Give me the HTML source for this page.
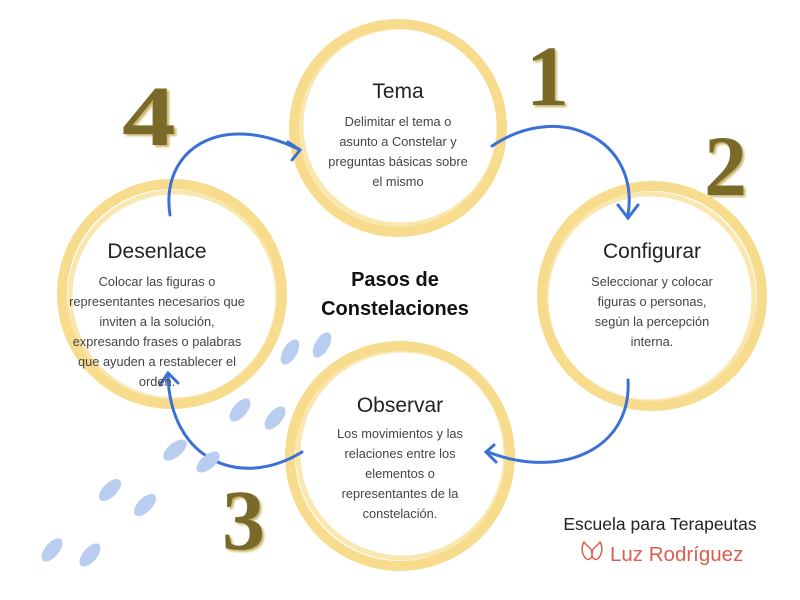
<!DOCTYPE html>
<html><head><meta charset="utf-8"><style>
html,body{margin:0;padding:0;background:#fff;}
body{width:800px;height:600px;position:relative;overflow:hidden;font-family:"Liberation Sans",sans-serif;}
.t{position:absolute;text-align:center;color:#333;}
.h{font-size:21px;color:#222;}
.p{font-size:12.8px;line-height:20px;color:#444;}
.n{position:absolute;font-family:"Liberation Serif",serif;font-weight:bold;font-size:86px;color:#7a6a2a;text-shadow:2px 2px 2px #c9b36a;}
</style></head><body>
<svg width="800" height="600" style="position:absolute;left:0;top:0">
<g fill="none" stroke="#f7d67a" stroke-width="10" opacity="0.85">
<circle cx="398" cy="128" r="104"/><circle cx="400" cy="126" r="99" stroke-width="5" opacity="0.7"/>
<circle cx="652" cy="296" r="110"/><circle cx="650" cy="298" r="104" stroke-width="5" opacity="0.7"/>
<circle cx="400" cy="456" r="110"/><circle cx="402" cy="454" r="104" stroke-width="5" opacity="0.7"/>
<circle cx="172" cy="294" r="110"/><circle cx="174" cy="296" r="104" stroke-width="5" opacity="0.7"/>
</g>
<g fill="none" stroke="#3b70d6" stroke-width="3" stroke-linecap="round">
<path d="M170 215 C160 150 220 110 300 150"/><path d="M288 142 L300 150 L292 160"/>
<path d="M492 146 C560 100 640 140 628 215"/><path d="M618 205 L628 218 L638 205"/>
<path d="M628 380 C632 450 560 480 488 452"/><path d="M494 445 L486 452 L496 462"/>
<path d="M302 452 C240 490 170 460 168 375"/><path d="M160 385 L168 373 L178 383"/>
</g>
<g fill="#b9cdf1">
<ellipse cx="290" cy="352" rx="7" ry="14" transform="rotate(30 290 352)"/>
<ellipse cx="322" cy="345" rx="7" ry="14" transform="rotate(30 322 345)"/>
<ellipse cx="240" cy="410" rx="7" ry="14" transform="rotate(40 240 410)"/>
<ellipse cx="275" cy="418" rx="7" ry="14" transform="rotate(40 275 418)"/>
<ellipse cx="175" cy="450" rx="7" ry="14" transform="rotate(50 175 450)"/>
<ellipse cx="208" cy="462" rx="7" ry="14" transform="rotate(50 208 462)"/>
<ellipse cx="110" cy="490" rx="7" ry="14" transform="rotate(45 110 490)"/>
<ellipse cx="145" cy="505" rx="7" ry="14" transform="rotate(45 145 505)"/>
<ellipse cx="52" cy="550" rx="7" ry="14" transform="rotate(40 52 550)"/>
<ellipse cx="90" cy="555" rx="7" ry="14" transform="rotate(40 90 555)"/>
</g>
<g fill="none" stroke="#d9604f" stroke-width="1.5">
<path d="M584 542 C578 552 588 566 592 556 C596 566 606 552 600 542 C596 548 592 546 592 556 C592 546 588 548 584 542 Z"/>
</g>
</svg>
<div class="n" style="left:526px;top:26px">1</div>
<div class="n" style="left:704px;top:116px">2</div>
<div class="n" style="left:222px;top:470px">3</div>
<div class="n" style="left:122px;top:66px;transform:scaleX(1.25);transform-origin:left">4</div>

<div class="t h" style="left:298px;top:80px;width:200px">Tema</div>
<div class="t p" style="left:293px;top:112px;width:210px">Delimitar el tema o<br>asunto a Constelar y<br>preguntas básicas sobre<br>el mismo</div>

<div class="t h" style="left:552px;top:240px;width:200px">Configurar</div>
<div class="t p" style="left:552px;top:272px;width:200px">Seleccionar y colocar<br>figuras o personas,<br>según la percepción<br>interna.</div>

<div class="t h" style="left:300px;top:394px;width:200px">Observar</div>
<div class="t p" style="left:300px;top:424px;width:200px">Los movimientos y las<br>relaciones entre los<br>elementos o<br>representantes de la<br>constelación.</div>

<div class="t h" style="left:52px;top:240px;width:210px">Desenlace</div>
<div class="t p" style="left:47px;top:272px;width:220px">Colocar las figuras o<br>representantes necesarios que<br>inviten a la solución,<br>expresando frases o palabras<br>que ayuden a restablecer el<br>orden.</div>

<div class="t" style="left:295px;top:266px;width:200px;font-size:20px;font-weight:bold;line-height:29px;color:#111">Pasos de<br>Constelaciones</div>

<div class="t" style="left:550px;top:514px;width:220px;font-size:17.5px;color:#222">Escuela para Terapeutas</div>
<div class="t" style="left:610px;top:543px;font-size:20.5px;color:#d9604f">Luz Rodríguez</div>
</body></html>
